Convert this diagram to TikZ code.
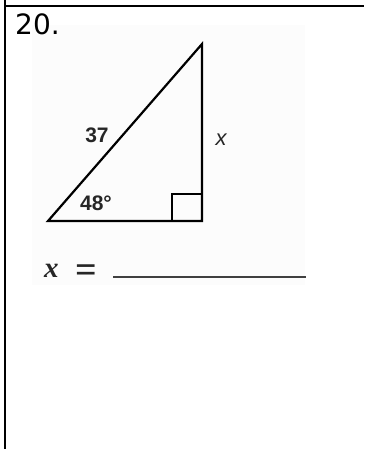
\documentclass[tikz,border=0pt]{standalone}
\usepackage{fontspec}
\setmainfont{Liberation Sans}
\newfontfamily\numfont{DejaVu Sans}
\newfontfamily\seriffont{Liberation Serif}
\begin{document}
\begin{tikzpicture}[x=1pt,y=-1pt,
  frame/.style={line width=2.6pt,black},
  tri/.style={line width=2.2pt,black,line join=miter},
  lbl/.style={inner sep=0pt,font=\bfseries\fontsize{21}{21}\selectfont,text=black!85}]
\useasboundingbox (0,0) rectangle (364,449);
% faint scan background
\fill[black!1.2] (32,25) rectangle (305,285);
% frame
\draw[frame] (5,0) -- (5,449);
\draw[frame] (5,6) -- (364,6);
% problem number
\node[anchor=base west,inner sep=0pt,font=\numfont\fontsize{28}{28}\selectfont] (num) at (15,35) {20.};
% triangle
\coordinate (A) at (48,221);
\coordinate (B) at (202,221);
\coordinate (C) at (202,44);
\draw[tri] (A) -- (B) -- (C) -- cycle;
\draw[tri] (172,221) -- (172,194) -- (202,194);
% labels
\node[lbl] (hyp) at (97,135) {37};
\node[lbl] (ang) at (96,203) {48°};
\node[lbl,font=\itshape\fontsize{22}{22}\selectfont] (opp) at (221,140) {x};
% answer line
\node[anchor=base west,inner sep=0pt,text=black!85,font=\seriffont\bfseries\itshape\fontsize{29}{29}\selectfont] (xv) at (44,277) {x};
\node[anchor=base west,inner sep=0pt,text=black!85,font=\seriffont\bfseries\fontsize{38}{38}\selectfont] (eq) at (75,282) {=};
\coordinate (l1) at (113,277);
\coordinate (l2) at (306,277);
\draw[line width=1.2pt,black!75] (l1) -- (l2);
\end{tikzpicture}
\end{document}
